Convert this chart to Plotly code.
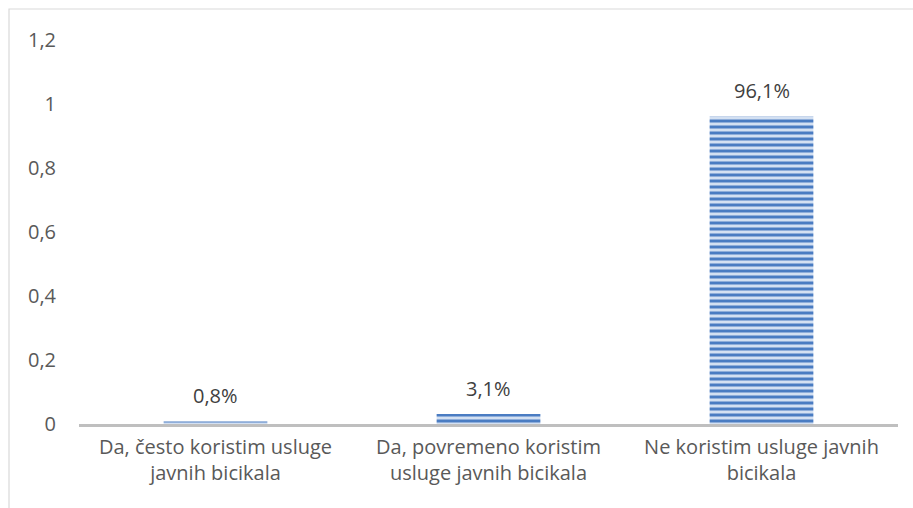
import plotly.graph_objects as go

categories = ["Da, često koristim usluge<br>javnih bicikala",
              "Da, povremeno koristim<br>usluge javnih bicikala",
              "Ne koristim usluge javnih<br>bicikala"]
values = [0.008, 0.031, 0.961]
value_labels = ["0,8%", "3,1%", "96,1%"]
tick_vals = [0, 0.2, 0.4, 0.6, 0.8, 1.0, 1.2]
tick_text = ["0", "0,2", "0,4", "0,6", "0,8", "1", "1,2"]

W, H = 913, 508
L, R, T, B = 79, 15, 40, 84
pw, ph = W - L - R, H - T - B
FONT = "Open Sans, Liberation Sans, sans-serif"

fig = go.Figure()
fig.add_trace(go.Bar(
    x=categories, y=values,
    width=0.38,
    marker=dict(color="#D3E0F2", line=dict(width=0),
                pattern=dict(shape="-", fgcolor="#4A7CC2", bgcolor="#D3E0F2",
                             size=6, solidity=0.5, fillmode="replace")),
))

for c, v, t in zip(categories, values, value_labels):
    fig.add_annotation(x=c, y=v, text=t, showarrow=False, yanchor="bottom",
                       yshift=10, font=dict(size=20, color="#404040", family=FONT))

fig.update_layout(
    width=W, height=H,
    margin=dict(l=L, r=R, t=T, b=B),
    paper_bgcolor="white", plot_bgcolor="white",
    font=dict(family=FONT, size=20, color="#595959"),
    showlegend=False,
    xaxis=dict(showgrid=False, showline=True, linecolor="#BFBFBF", linewidth=2.5,
               ticks="", ticklabelstandoff=3, tickfont=dict(size=20, color="#595959")),
    yaxis=dict(range=[0, 1.2], tickvals=tick_vals, ticktext=tick_text,
               showgrid=False, zeroline=False, showline=False, ticks="",
               ticklabelstandoff=22, tickfont=dict(size=20, color="#595959")),
    shapes=[dict(type="rect", xref="paper", yref="paper",
                 x0=(9 - L) / pw, x1=(930 - L) / pw,
                 y0=(H - B - 530) / ph, y1=(H - B - 9) / ph,
                 line=dict(color="#D9D9D9", width=1.2), fillcolor="rgba(0,0,0,0)",
                 layer="below")],
)

fig.write_html("out.html", config={"displayModeBar": False},
               post_script="document.body.style.margin='0';document.body.style.overflow='hidden';")
